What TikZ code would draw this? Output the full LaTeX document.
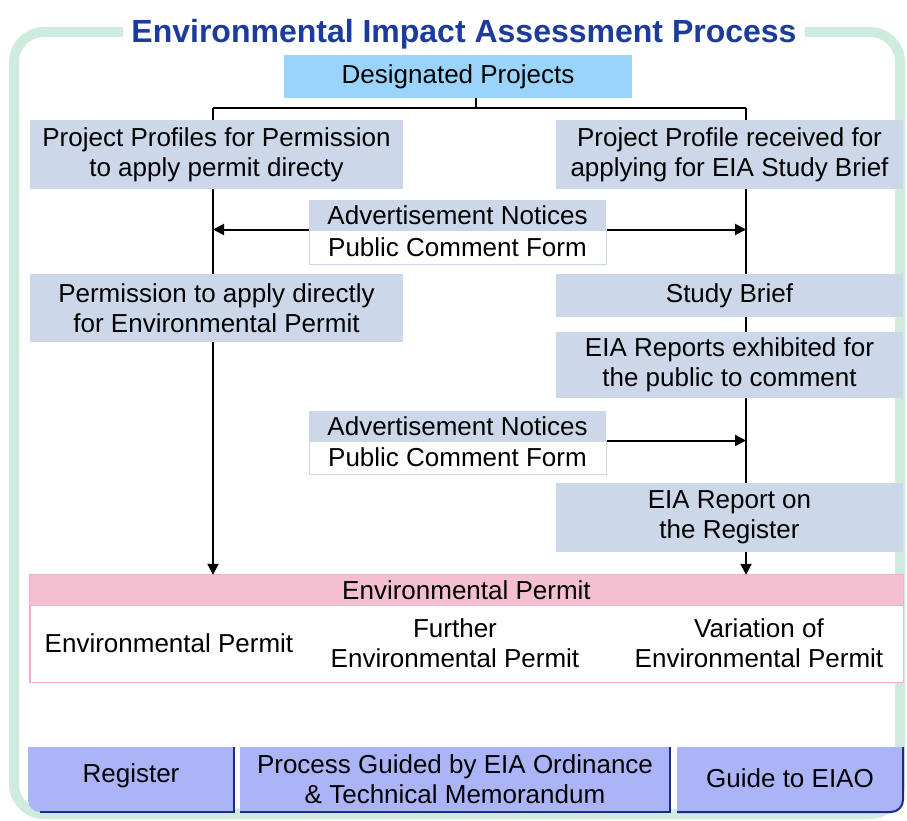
\documentclass[tikz,border=0pt]{standalone}
\usepackage{fontspec}
\setmainfont{Liberation Sans}
\usetikzlibrary{arrows.meta}
\definecolor{boxblue}{HTML}{CDD7EA}
\definecolor{dpblue}{HTML}{99D4FC}
\definecolor{pinkhead}{HTML}{F4BFD0}
\definecolor{pinkline}{HTML}{F0B3C6}
\definecolor{tabc}{HTML}{AAB4F7}
\definecolor{tabnavy}{HTML}{1E2A8A}
\definecolor{framegreen}{HTML}{CFEBDD}
\definecolor{titleblue}{HTML}{1C3C9C}
\newcommand\diagfont{\fontsize{26}{30}\selectfont}
\begin{document}
\begin{tikzpicture}[x=1pt,y=-1pt,
  box/.style={fill=boxblue, inner sep=0pt, align=center, font=\diagfont},
  wbox/.style={fill=white, draw=boxblue, line width=1pt, inner sep=0pt, align=center, font=\diagfont},
  txt/.style={inner sep=0pt, align=center, font=\diagfont},
  conn/.style={line width=2pt, black},
  arr/.style={conn, -{Triangle[length=11pt,width=11pt]}},
  tabline/.style={tabnavy, line width=2pt}]
\useasboundingbox (0,0) rectangle (907,821);
% frame
\draw[framegreen, line width=10pt, rounded corners=30pt] (14,32) rectangle (900,814);
\node[fill=white, inner xsep=8pt, inner ysep=3pt, anchor=base, text=titleblue,
      font=\fontsize{32}{36}\bfseries\selectfont] (title) at (464,43) {Environmental Impact Assessment Process};
% boxes
\node[box, fill=dpblue, minimum width=348pt, minimum height=43pt] (dp) at (458,76.5) {Designated Projects};
\node[box, minimum width=373pt, minimum height=69pt] (pp1) at (216.5,154.5) {Project Profiles for Permission\\to apply permit directy};
\node[box, minimum width=347pt, minimum height=69pt] (pr1) at (729.5,154.5) {Project Profile received for\\applying for EIA Study Brief};
\node[box, minimum width=297pt, minimum height=30pt] (at1) at (457.5,215) {Advertisement Notices};
\node[wbox, minimum width=297pt, minimum height=34pt] (ab1) at (457.5,247) {Public Comment Form};
\node[box, minimum width=373pt, minimum height=68pt] (pp2) at (216.5,308) {Permission to apply directly\\for Environmental Permit};
\node[box, minimum width=347pt, minimum height=43pt] (sb) at (729.5,295.5) {Study Brief};
\node[box, minimum width=347pt, minimum height=66pt] (er) at (729.5,365) {EIA Reports exhibited for\\the public to comment};
\node[box, minimum width=297pt, minimum height=30pt] (at2) at (457.5,426) {Advertisement Notices};
\node[wbox, minimum width=297pt, minimum height=33pt] (ab2) at (457.5,457.5) {Public Comment Form};
\node[box, minimum width=347pt, minimum height=69pt] (rr) at (729.5,517.5) {EIA Report on\\the Register};
% permit block
\node[box, fill=pinkhead, minimum width=873pt, minimum height=30pt] (eph) at (466.5,590) {Environmental Permit};
\node[fill=white, draw=pinkline, line width=1pt, inner sep=0pt, minimum width=873pt, minimum height=77pt] (epb) at (466.5,643.5) {};
\draw[pinkline, line width=1pt] (eph.north west) rectangle (epb.south east);
\node[txt] (e1) at (169,643) {Environmental Permit};
\node[txt] (e2) at (455,643) {Further\\Environmental Permit};
\node[txt] (e3) at (759,643) {Variation of\\Environmental Permit};
% connectors
\coordinate (T) at (476,108);
\coordinate (L) at (213,108);
\coordinate (R) at (746,108);
\draw[conn] (dp.south -| T) -- (T);
\draw[conn] (L) -- (R);
\draw[conn] (L) -- (L |- pp1.north);
\draw[conn] (R) -- (R |- pr1.north);
\draw[conn] (pp1.south -| L) -- (pp2.north -| L);
\draw[arr] (pp2.south -| L) -- (eph.north -| L);
\draw[conn] (pr1.south -| R) -- (sb.north -| R);
\draw[conn] (sb.south -| R) -- (er.north -| R);
\draw[conn] (er.south -| R) -- (rr.north -| R);
\draw[arr] (rr.south -| R) -- (eph.north -| R);
\draw[arr] (ab1.north west) -- (ab1.north west -| L);
\draw[arr] (ab1.north east) -- (ab1.north east -| R);
\draw[arr] (ab2.north east) -- (ab2.north east -| R);
% tabs
\fill[tabc] (28,747) -- (234,747) -- (234,812) -- (40,812) arc[start angle=270, end angle=180, radius=12pt] -- cycle;
\fill[tabc] (240,747) rectangle (670,812);
\fill[tabc] (677,747) -- (903,747) -- (903,800) arc[start angle=0, end angle=-90, radius=12pt] -- (677,812) -- cycle;
\draw[tabline] (234,747) -- (234,812) -- (40,812);
\draw[tabline] (670,747) -- (670,812) -- (240,812);
\draw[tabline] (903,747) -- (903,800) arc[start angle=0, end angle=-90, radius=12pt] -- (677,812);
\node[txt] (reg) at (131,776) {Register};
\node[txt] (proc) at (455,779.5) {Process Guided by EIA Ordinance\\\& Technical Memorandum};
\node[txt] (guide) at (790,778) {Guide to EIAO};
\end{tikzpicture}
\end{document}
